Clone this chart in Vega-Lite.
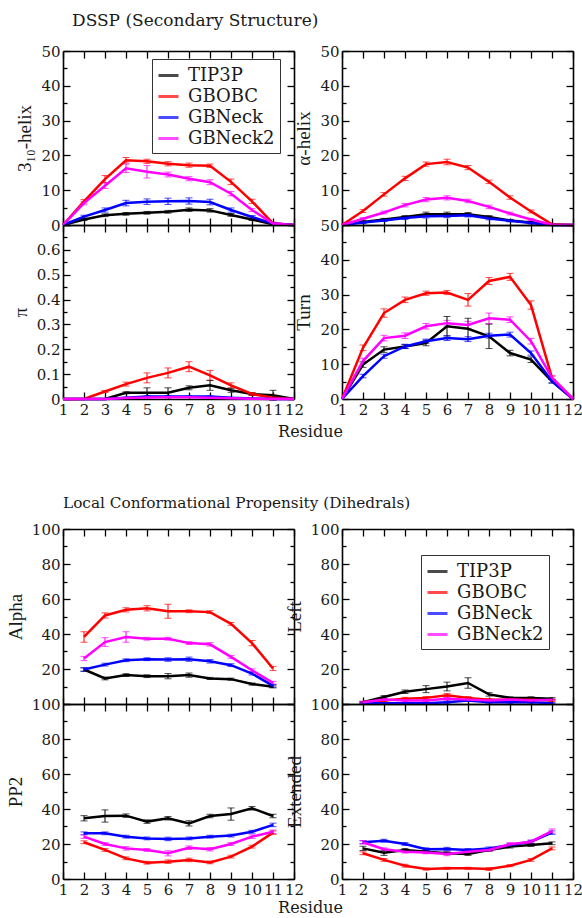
{
"$schema": "https://vega.github.io/schema/vega-lite/v6.json",
"padding": {"left": 6, "top": 12, "right": 0, "bottom": 0},
"background": "white",
"config": {
  "view": {"stroke": null},
  "font": "DejaVu Serif",
  "axis": {"domainColor": "#000", "domainWidth": 1.6, "tickColor": "#000", "tickWidth": 1.3, "labelFont": "DejaVu Serif", "labelFontSize": 15, "labelColor": "#1a1a1a", "titleFont": "Liberation Serif", "titleFontSize": 19, "titleFontWeight": "normal", "titleColor": "#1a1a1a", "grid": false, "labelFlush": false, "labelOverlap": false, "labelPadding": 10, "titlePadding": 6},
  "legend": {"strokeColor": "#333", "strokeWidth": 1, "padding": 5, "symbolType": "stroke", "symbolStrokeWidth": 3, "symbolSize": 400, "labelFont": "DejaVu Serif", "labelFontSize": 18, "labelOffset": 8, "rowPadding": 0, "labelColor": "#1a1a1a", "fillColor": "white"}
},
"data": {"values": [
{"p":"h310","m":"TIP3P","r":1,"v":0,"e":0},{"p":"h310","m":"TIP3P","r":2,"v":1.6,"e":0.3},{"p":"h310","m":"TIP3P","r":3,"v":2.8,"e":0.4},{"p":"h310","m":"TIP3P","r":4,"v":3.2,"e":0.4},{"p":"h310","m":"TIP3P","r":5,"v":3.5,"e":0.4},{"p":"h310","m":"TIP3P","r":6,"v":3.8,"e":0.4},{"p":"h310","m":"TIP3P","r":7,"v":4.4,"e":0.5},{"p":"h310","m":"TIP3P","r":8,"v":4.2,"e":0.5},{"p":"h310","m":"TIP3P","r":9,"v":2.9,"e":0.4},{"p":"h310","m":"TIP3P","r":10,"v":1.6,"e":0.3},{"p":"h310","m":"TIP3P","r":11,"v":0.2,"e":0.2},{"p":"h310","m":"TIP3P","r":12,"v":0,"e":0},
{"p":"h310","m":"GBOBC","r":1,"v":0,"e":0},{"p":"h310","m":"GBOBC","r":2,"v":6.8,"e":0.5},{"p":"h310","m":"GBOBC","r":3,"v":13.2,"e":1},{"p":"h310","m":"GBOBC","r":4,"v":18.6,"e":0.8},{"p":"h310","m":"GBOBC","r":5,"v":18.3,"e":0.6},{"p":"h310","m":"GBOBC","r":6,"v":17.6,"e":0.6},{"p":"h310","m":"GBOBC","r":7,"v":17.2,"e":0.6},{"p":"h310","m":"GBOBC","r":8,"v":17,"e":0.5},{"p":"h310","m":"GBOBC","r":9,"v":12.4,"e":0.8},{"p":"h310","m":"GBOBC","r":10,"v":6.8,"e":0.6},{"p":"h310","m":"GBOBC","r":11,"v":0.5,"e":0.3},{"p":"h310","m":"GBOBC","r":12,"v":0,"e":0},
{"p":"h310","m":"GBNeck","r":1,"v":0,"e":0},{"p":"h310","m":"GBNeck","r":2,"v":2.4,"e":0.4},{"p":"h310","m":"GBNeck","r":3,"v":4.3,"e":0.6},{"p":"h310","m":"GBNeck","r":4,"v":6.3,"e":0.8},{"p":"h310","m":"GBNeck","r":5,"v":6.7,"e":0.8},{"p":"h310","m":"GBNeck","r":6,"v":6.8,"e":0.9},{"p":"h310","m":"GBNeck","r":7,"v":6.9,"e":0.9},{"p":"h310","m":"GBNeck","r":8,"v":6.6,"e":0.8},{"p":"h310","m":"GBNeck","r":9,"v":4.3,"e":0.6},{"p":"h310","m":"GBNeck","r":10,"v":2.3,"e":0.4},{"p":"h310","m":"GBNeck","r":11,"v":0.4,"e":0.2},{"p":"h310","m":"GBNeck","r":12,"v":0,"e":0},
{"p":"h310","m":"GBNeck2","r":1,"v":0,"e":0},{"p":"h310","m":"GBNeck2","r":2,"v":6.3,"e":0.5},{"p":"h310","m":"GBNeck2","r":3,"v":11.3,"e":0.8},{"p":"h310","m":"GBNeck2","r":4,"v":16.3,"e":1.2},{"p":"h310","m":"GBNeck2","r":5,"v":15.3,"e":1.8},{"p":"h310","m":"GBNeck2","r":6,"v":14.5,"e":0.7},{"p":"h310","m":"GBNeck2","r":7,"v":13.3,"e":0.6},{"p":"h310","m":"GBNeck2","r":8,"v":12.3,"e":0.7},{"p":"h310","m":"GBNeck2","r":9,"v":9,"e":0.6},{"p":"h310","m":"GBNeck2","r":10,"v":4.3,"e":0.4},{"p":"h310","m":"GBNeck2","r":11,"v":0.4,"e":0.2},{"p":"h310","m":"GBNeck2","r":12,"v":0,"e":0},
{"p":"ahel","m":"TIP3P","r":1,"v":0,"e":0},{"p":"ahel","m":"TIP3P","r":2,"v":0.9,"e":0.3},{"p":"ahel","m":"TIP3P","r":3,"v":1.6,"e":0.3},{"p":"ahel","m":"TIP3P","r":4,"v":2.3,"e":0.4},{"p":"ahel","m":"TIP3P","r":5,"v":3.1,"e":0.6},{"p":"ahel","m":"TIP3P","r":6,"v":3.1,"e":0.6},{"p":"ahel","m":"TIP3P","r":7,"v":3.1,"e":0.5},{"p":"ahel","m":"TIP3P","r":8,"v":2.3,"e":0.4},{"p":"ahel","m":"TIP3P","r":9,"v":1.3,"e":0.3},{"p":"ahel","m":"TIP3P","r":10,"v":0.7,"e":0.3},{"p":"ahel","m":"TIP3P","r":11,"v":0,"e":0},{"p":"ahel","m":"TIP3P","r":12,"v":0,"e":0},
{"p":"ahel","m":"GBOBC","r":1,"v":0,"e":0},{"p":"ahel","m":"GBOBC","r":2,"v":4,"e":0.4},{"p":"ahel","m":"GBOBC","r":3,"v":8.8,"e":0.5},{"p":"ahel","m":"GBOBC","r":4,"v":13.4,"e":0.6},{"p":"ahel","m":"GBOBC","r":5,"v":17.5,"e":0.6},{"p":"ahel","m":"GBOBC","r":6,"v":18.1,"e":0.8},{"p":"ahel","m":"GBOBC","r":7,"v":16.5,"e":0.6},{"p":"ahel","m":"GBOBC","r":8,"v":12.4,"e":0.5},{"p":"ahel","m":"GBOBC","r":9,"v":7.9,"e":0.5},{"p":"ahel","m":"GBOBC","r":10,"v":3.9,"e":0.4},{"p":"ahel","m":"GBOBC","r":11,"v":0.2,"e":0.1},{"p":"ahel","m":"GBOBC","r":12,"v":0,"e":0},
{"p":"ahel","m":"GBNeck","r":1,"v":0,"e":0},{"p":"ahel","m":"GBNeck","r":2,"v":0.7,"e":0.3},{"p":"ahel","m":"GBNeck","r":3,"v":1.3,"e":0.3},{"p":"ahel","m":"GBNeck","r":4,"v":2,"e":0.4},{"p":"ahel","m":"GBNeck","r":5,"v":2.5,"e":0.5},{"p":"ahel","m":"GBNeck","r":6,"v":2.6,"e":0.5},{"p":"ahel","m":"GBNeck","r":7,"v":2.8,"e":0.5},{"p":"ahel","m":"GBNeck","r":8,"v":1.9,"e":0.4},{"p":"ahel","m":"GBNeck","r":9,"v":1.2,"e":0.3},{"p":"ahel","m":"GBNeck","r":10,"v":0.6,"e":0.3},{"p":"ahel","m":"GBNeck","r":11,"v":0,"e":0},{"p":"ahel","m":"GBNeck","r":12,"v":0,"e":0},
{"p":"ahel","m":"GBNeck2","r":1,"v":0,"e":0},{"p":"ahel","m":"GBNeck2","r":2,"v":1.8,"e":0.3},{"p":"ahel","m":"GBNeck2","r":3,"v":3.6,"e":0.4},{"p":"ahel","m":"GBNeck2","r":4,"v":5.7,"e":0.5},{"p":"ahel","m":"GBNeck2","r":5,"v":7.3,"e":0.6},{"p":"ahel","m":"GBNeck2","r":6,"v":7.8,"e":0.6},{"p":"ahel","m":"GBNeck2","r":7,"v":6.9,"e":0.5},{"p":"ahel","m":"GBNeck2","r":8,"v":5.2,"e":0.5},{"p":"ahel","m":"GBNeck2","r":9,"v":3.3,"e":0.4},{"p":"ahel","m":"GBNeck2","r":10,"v":1.6,"e":0.3},{"p":"ahel","m":"GBNeck2","r":11,"v":0.1,"e":0.1},{"p":"ahel","m":"GBNeck2","r":12,"v":0,"e":0},
{"p":"pi","m":"TIP3P","r":1,"v":0,"e":0},{"p":"pi","m":"TIP3P","r":2,"v":0,"e":0},{"p":"pi","m":"TIP3P","r":3,"v":0,"e":0},{"p":"pi","m":"TIP3P","r":4,"v":0.025,"e":0.004},{"p":"pi","m":"TIP3P","r":5,"v":0.025,"e":0.02},{"p":"pi","m":"TIP3P","r":6,"v":0.025,"e":0.02},{"p":"pi","m":"TIP3P","r":7,"v":0.045,"e":0.008},{"p":"pi","m":"TIP3P","r":8,"v":0.055,"e":0.02},{"p":"pi","m":"TIP3P","r":9,"v":0.035,"e":0.008},{"p":"pi","m":"TIP3P","r":10,"v":0.02,"e":0.005},{"p":"pi","m":"TIP3P","r":11,"v":0.015,"e":0.02},{"p":"pi","m":"TIP3P","r":12,"v":0,"e":0},
{"p":"pi","m":"GBOBC","r":1,"v":0,"e":0},{"p":"pi","m":"GBOBC","r":2,"v":0,"e":0},{"p":"pi","m":"GBOBC","r":3,"v":0.03,"e":0.004},{"p":"pi","m":"GBOBC","r":4,"v":0.06,"e":0.008},{"p":"pi","m":"GBOBC","r":5,"v":0.085,"e":0.02},{"p":"pi","m":"GBOBC","r":6,"v":0.105,"e":0.02},{"p":"pi","m":"GBOBC","r":7,"v":0.13,"e":0.02},{"p":"pi","m":"GBOBC","r":8,"v":0.095,"e":0.02},{"p":"pi","m":"GBOBC","r":9,"v":0.055,"e":0.01},{"p":"pi","m":"GBOBC","r":10,"v":0.02,"e":0.006},{"p":"pi","m":"GBOBC","r":11,"v":0.005,"e":0.003},{"p":"pi","m":"GBOBC","r":12,"v":0,"e":0},
{"p":"pi","m":"GBNeck","r":1,"v":0,"e":0},{"p":"pi","m":"GBNeck","r":2,"v":0,"e":0},{"p":"pi","m":"GBNeck","r":3,"v":0,"e":0},{"p":"pi","m":"GBNeck","r":4,"v":0.005,"e":0.002},{"p":"pi","m":"GBNeck","r":5,"v":0.01,"e":0.003},{"p":"pi","m":"GBNeck","r":6,"v":0.01,"e":0.003},{"p":"pi","m":"GBNeck","r":7,"v":0.01,"e":0.003},{"p":"pi","m":"GBNeck","r":8,"v":0.01,"e":0.003},{"p":"pi","m":"GBNeck","r":9,"v":0.005,"e":0.002},{"p":"pi","m":"GBNeck","r":10,"v":0.002,"e":0},{"p":"pi","m":"GBNeck","r":11,"v":0,"e":0},{"p":"pi","m":"GBNeck","r":12,"v":0,"e":0},
{"p":"pi","m":"GBNeck2","r":1,"v":0,"e":0},{"p":"pi","m":"GBNeck2","r":2,"v":0,"e":0},{"p":"pi","m":"GBNeck2","r":3,"v":0,"e":0},{"p":"pi","m":"GBNeck2","r":4,"v":0.004,"e":0.002},{"p":"pi","m":"GBNeck2","r":5,"v":0.006,"e":0.002},{"p":"pi","m":"GBNeck2","r":6,"v":0.007,"e":0.002},{"p":"pi","m":"GBNeck2","r":7,"v":0.007,"e":0.002},{"p":"pi","m":"GBNeck2","r":8,"v":0.005,"e":0.002},{"p":"pi","m":"GBNeck2","r":9,"v":0.003,"e":0.002},{"p":"pi","m":"GBNeck2","r":10,"v":0.001,"e":0},{"p":"pi","m":"GBNeck2","r":11,"v":0,"e":0},{"p":"pi","m":"GBNeck2","r":12,"v":0,"e":0},
{"p":"turn","m":"TIP3P","r":1,"v":0,"e":0},{"p":"turn","m":"TIP3P","r":2,"v":9.9,"e":0.8},{"p":"turn","m":"TIP3P","r":3,"v":14.2,"e":0.8},{"p":"turn","m":"TIP3P","r":4,"v":15.1,"e":0.6},{"p":"turn","m":"TIP3P","r":5,"v":16.1,"e":0.8},{"p":"turn","m":"TIP3P","r":6,"v":20.9,"e":2.8},{"p":"turn","m":"TIP3P","r":7,"v":20.2,"e":3},{"p":"turn","m":"TIP3P","r":8,"v":18,"e":3.5},{"p":"turn","m":"TIP3P","r":9,"v":13.2,"e":0.8},{"p":"turn","m":"TIP3P","r":10,"v":11.3,"e":0.8},{"p":"turn","m":"TIP3P","r":11,"v":5.1,"e":0.5},{"p":"turn","m":"TIP3P","r":12,"v":0,"e":0},
{"p":"turn","m":"GBOBC","r":1,"v":0,"e":0},{"p":"turn","m":"GBOBC","r":2,"v":14.7,"e":0.8},{"p":"turn","m":"GBOBC","r":3,"v":24.7,"e":1.2},{"p":"turn","m":"GBOBC","r":4,"v":28.5,"e":0.8},{"p":"turn","m":"GBOBC","r":5,"v":30.4,"e":0.6},{"p":"turn","m":"GBOBC","r":6,"v":30.6,"e":0.6},{"p":"turn","m":"GBOBC","r":7,"v":28.5,"e":1.8},{"p":"turn","m":"GBOBC","r":8,"v":33.9,"e":1},{"p":"turn","m":"GBOBC","r":9,"v":35.1,"e":1},{"p":"turn","m":"GBOBC","r":10,"v":27,"e":1.2},{"p":"turn","m":"GBOBC","r":11,"v":6.1,"e":0.5},{"p":"turn","m":"GBOBC","r":12,"v":0,"e":0},
{"p":"turn","m":"GBNeck","r":1,"v":0,"e":0},{"p":"turn","m":"GBNeck","r":2,"v":6.6,"e":0.5},{"p":"turn","m":"GBNeck","r":3,"v":12.3,"e":0.6},{"p":"turn","m":"GBNeck","r":4,"v":15.1,"e":0.6},{"p":"turn","m":"GBNeck","r":5,"v":16.6,"e":0.6},{"p":"turn","m":"GBNeck","r":6,"v":17.5,"e":0.7},{"p":"turn","m":"GBNeck","r":7,"v":17.2,"e":0.7},{"p":"turn","m":"GBNeck","r":8,"v":18.2,"e":0.7},{"p":"turn","m":"GBNeck","r":9,"v":18.5,"e":0.7},{"p":"turn","m":"GBNeck","r":10,"v":13.2,"e":0.6},{"p":"turn","m":"GBNeck","r":11,"v":5.1,"e":0.5},{"p":"turn","m":"GBNeck","r":12,"v":0,"e":0},
{"p":"turn","m":"GBNeck2","r":1,"v":0,"e":0},{"p":"turn","m":"GBNeck2","r":2,"v":10.9,"e":0.8},{"p":"turn","m":"GBNeck2","r":3,"v":17.5,"e":0.8},{"p":"turn","m":"GBNeck2","r":4,"v":18.2,"e":0.8},{"p":"turn","m":"GBNeck2","r":5,"v":20.9,"e":0.8},{"p":"turn","m":"GBNeck2","r":6,"v":21.8,"e":0.8},{"p":"turn","m":"GBNeck2","r":7,"v":21.3,"e":1},{"p":"turn","m":"GBNeck2","r":8,"v":23.2,"e":1.5},{"p":"turn","m":"GBNeck2","r":9,"v":22.8,"e":0.8},{"p":"turn","m":"GBNeck2","r":10,"v":16.6,"e":0.8},{"p":"turn","m":"GBNeck2","r":11,"v":6.1,"e":0.5},{"p":"turn","m":"GBNeck2","r":12,"v":0,"e":0},
{"p":"alpha","m":"TIP3P","r":2,"v":19.7,"e":1},{"p":"alpha","m":"TIP3P","r":3,"v":14.6,"e":0.8},{"p":"alpha","m":"TIP3P","r":4,"v":16.5,"e":0.8},{"p":"alpha","m":"TIP3P","r":5,"v":15.9,"e":0.8},{"p":"alpha","m":"TIP3P","r":6,"v":15.9,"e":1.5},{"p":"alpha","m":"TIP3P","r":7,"v":16.5,"e":1.2},{"p":"alpha","m":"TIP3P","r":8,"v":14.6,"e":0.6},{"p":"alpha","m":"TIP3P","r":9,"v":14.2,"e":0.6},{"p":"alpha","m":"TIP3P","r":10,"v":11.4,"e":0.6},{"p":"alpha","m":"TIP3P","r":11,"v":9.8,"e":0.6},
{"p":"alpha","m":"GBOBC","r":2,"v":38.3,"e":3},{"p":"alpha","m":"GBOBC","r":3,"v":50.6,"e":1.5},{"p":"alpha","m":"GBOBC","r":4,"v":53.8,"e":1.2},{"p":"alpha","m":"GBOBC","r":5,"v":54.7,"e":1.5},{"p":"alpha","m":"GBOBC","r":6,"v":53,"e":4},{"p":"alpha","m":"GBOBC","r":7,"v":53,"e":0.8},{"p":"alpha","m":"GBOBC","r":8,"v":52.5,"e":0.8},{"p":"alpha","m":"GBOBC","r":9,"v":45.8,"e":0.8},{"p":"alpha","m":"GBOBC","r":10,"v":34.8,"e":1.5},{"p":"alpha","m":"GBOBC","r":11,"v":20.3,"e":1.2},
{"p":"alpha","m":"GBNeck","r":2,"v":19.7,"e":1},{"p":"alpha","m":"GBNeck","r":3,"v":22.5,"e":0.8},{"p":"alpha","m":"GBNeck","r":4,"v":25,"e":0.8},{"p":"alpha","m":"GBNeck","r":5,"v":25.6,"e":0.8},{"p":"alpha","m":"GBNeck","r":6,"v":25.4,"e":1},{"p":"alpha","m":"GBNeck","r":7,"v":25.6,"e":1.2},{"p":"alpha","m":"GBNeck","r":8,"v":24.4,"e":1},{"p":"alpha","m":"GBNeck","r":9,"v":22.2,"e":0.8},{"p":"alpha","m":"GBNeck","r":10,"v":17.4,"e":0.8},{"p":"alpha","m":"GBNeck","r":11,"v":10.4,"e":0.8},
{"p":"alpha","m":"GBNeck2","r":2,"v":26,"e":1.2},{"p":"alpha","m":"GBNeck2","r":3,"v":35.4,"e":2.5},{"p":"alpha","m":"GBNeck2","r":4,"v":38.3,"e":3},{"p":"alpha","m":"GBNeck2","r":5,"v":37.3,"e":0.8},{"p":"alpha","m":"GBNeck2","r":6,"v":37.3,"e":0.8},{"p":"alpha","m":"GBNeck2","r":7,"v":34.8,"e":0.8},{"p":"alpha","m":"GBNeck2","r":8,"v":34.1,"e":1},{"p":"alpha","m":"GBNeck2","r":9,"v":26.9,"e":0.8},{"p":"alpha","m":"GBNeck2","r":10,"v":19.3,"e":0.8},{"p":"alpha","m":"GBNeck2","r":11,"v":12.1,"e":0.8},
{"p":"left","m":"TIP3P","r":2,"v":1,"e":0.5},{"p":"left","m":"TIP3P","r":3,"v":4,"e":0.8},{"p":"left","m":"TIP3P","r":4,"v":7,"e":1},{"p":"left","m":"TIP3P","r":5,"v":8.5,"e":2},{"p":"left","m":"TIP3P","r":6,"v":10,"e":2.5},{"p":"left","m":"TIP3P","r":7,"v":12,"e":3},{"p":"left","m":"TIP3P","r":8,"v":5.5,"e":1},{"p":"left","m":"TIP3P","r":9,"v":3.5,"e":0.6},{"p":"left","m":"TIP3P","r":10,"v":3.5,"e":0.6},{"p":"left","m":"TIP3P","r":11,"v":3,"e":0.6},
{"p":"left","m":"GBOBC","r":2,"v":1,"e":0.5},{"p":"left","m":"GBOBC","r":3,"v":2,"e":0.6},{"p":"left","m":"GBOBC","r":4,"v":3,"e":0.8},{"p":"left","m":"GBOBC","r":5,"v":3.5,"e":0.8},{"p":"left","m":"GBOBC","r":6,"v":5,"e":1},{"p":"left","m":"GBOBC","r":7,"v":3.5,"e":0.8},{"p":"left","m":"GBOBC","r":8,"v":2.5,"e":0.6},{"p":"left","m":"GBOBC","r":9,"v":2.5,"e":0.6},{"p":"left","m":"GBOBC","r":10,"v":2.5,"e":0.6},{"p":"left","m":"GBOBC","r":11,"v":2,"e":0.5},
{"p":"left","m":"GBNeck","r":2,"v":0.5,"e":0.3},{"p":"left","m":"GBNeck","r":3,"v":0.5,"e":0.3},{"p":"left","m":"GBNeck","r":4,"v":0.5,"e":0.3},{"p":"left","m":"GBNeck","r":5,"v":0.5,"e":0.3},{"p":"left","m":"GBNeck","r":6,"v":1,"e":0.5},{"p":"left","m":"GBNeck","r":7,"v":2,"e":0.6},{"p":"left","m":"GBNeck","r":8,"v":1,"e":0.5},{"p":"left","m":"GBNeck","r":9,"v":1,"e":0.5},{"p":"left","m":"GBNeck","r":10,"v":1,"e":0.5},{"p":"left","m":"GBNeck","r":11,"v":0.5,"e":0.3},
{"p":"left","m":"GBNeck2","r":2,"v":1,"e":0.5},{"p":"left","m":"GBNeck2","r":3,"v":2.5,"e":0.6},{"p":"left","m":"GBNeck2","r":4,"v":2,"e":0.6},{"p":"left","m":"GBNeck2","r":5,"v":2,"e":0.6},{"p":"left","m":"GBNeck2","r":6,"v":3,"e":0.8},{"p":"left","m":"GBNeck2","r":7,"v":2.5,"e":0.6},{"p":"left","m":"GBNeck2","r":8,"v":2,"e":0.6},{"p":"left","m":"GBNeck2","r":9,"v":2.5,"e":0.6},{"p":"left","m":"GBNeck2","r":10,"v":2,"e":0.6},{"p":"left","m":"GBNeck2","r":11,"v":2.5,"e":0.6},
{"p":"pp2","m":"TIP3P","r":2,"v":34.7,"e":1.5},{"p":"pp2","m":"TIP3P","r":3,"v":36,"e":3.5},{"p":"pp2","m":"TIP3P","r":4,"v":36.2,"e":1},{"p":"pp2","m":"TIP3P","r":5,"v":32.8,"e":1},{"p":"pp2","m":"TIP3P","r":6,"v":34.7,"e":1},{"p":"pp2","m":"TIP3P","r":7,"v":31.8,"e":1.5},{"p":"pp2","m":"TIP3P","r":8,"v":36,"e":1},{"p":"pp2","m":"TIP3P","r":9,"v":37.1,"e":3.5},{"p":"pp2","m":"TIP3P","r":10,"v":40.4,"e":1},{"p":"pp2","m":"TIP3P","r":11,"v":36,"e":1},
{"p":"pp2","m":"GBOBC","r":2,"v":21,"e":0.8},{"p":"pp2","m":"GBOBC","r":3,"v":16.6,"e":0.8},{"p":"pp2","m":"GBOBC","r":4,"v":11.8,"e":0.8},{"p":"pp2","m":"GBOBC","r":5,"v":9.3,"e":0.8},{"p":"pp2","m":"GBOBC","r":6,"v":9.9,"e":1},{"p":"pp2","m":"GBOBC","r":7,"v":10.9,"e":1},{"p":"pp2","m":"GBOBC","r":8,"v":9.5,"e":0.8},{"p":"pp2","m":"GBOBC","r":9,"v":12.8,"e":0.8},{"p":"pp2","m":"GBOBC","r":10,"v":18.5,"e":0.8},{"p":"pp2","m":"GBOBC","r":11,"v":26.5,"e":1},
{"p":"pp2","m":"GBNeck","r":2,"v":26.1,"e":0.8},{"p":"pp2","m":"GBNeck","r":3,"v":26.1,"e":0.8},{"p":"pp2","m":"GBNeck","r":4,"v":24.2,"e":0.8},{"p":"pp2","m":"GBNeck","r":5,"v":23.2,"e":0.8},{"p":"pp2","m":"GBNeck","r":6,"v":22.9,"e":1},{"p":"pp2","m":"GBNeck","r":7,"v":23.2,"e":0.8},{"p":"pp2","m":"GBNeck","r":8,"v":24.2,"e":0.8},{"p":"pp2","m":"GBNeck","r":9,"v":24.8,"e":0.8},{"p":"pp2","m":"GBNeck","r":10,"v":27,"e":0.8},{"p":"pp2","m":"GBNeck","r":11,"v":30.9,"e":1},
{"p":"pp2","m":"GBNeck2","r":2,"v":24.2,"e":1},{"p":"pp2","m":"GBNeck2","r":3,"v":20,"e":0.8},{"p":"pp2","m":"GBNeck2","r":4,"v":17.5,"e":1},{"p":"pp2","m":"GBNeck2","r":5,"v":16.6,"e":0.8},{"p":"pp2","m":"GBNeck2","r":6,"v":14.7,"e":1.5},{"p":"pp2","m":"GBNeck2","r":7,"v":17.9,"e":1},{"p":"pp2","m":"GBNeck2","r":8,"v":17,"e":1},{"p":"pp2","m":"GBNeck2","r":9,"v":20,"e":0.8},{"p":"pp2","m":"GBNeck2","r":10,"v":24.2,"e":1},{"p":"pp2","m":"GBNeck2","r":11,"v":27,"e":1},
{"p":"ext","m":"TIP3P","r":2,"v":17.5,"e":1.2},{"p":"ext","m":"TIP3P","r":3,"v":15,"e":1.5},{"p":"ext","m":"TIP3P","r":4,"v":16.6,"e":0.8},{"p":"ext","m":"TIP3P","r":5,"v":15.6,"e":0.8},{"p":"ext","m":"TIP3P","r":6,"v":14.7,"e":0.8},{"p":"ext","m":"TIP3P","r":7,"v":14.3,"e":0.8},{"p":"ext","m":"TIP3P","r":8,"v":16.6,"e":0.8},{"p":"ext","m":"TIP3P","r":9,"v":18.5,"e":0.8},{"p":"ext","m":"TIP3P","r":10,"v":19.4,"e":0.8},{"p":"ext","m":"TIP3P","r":11,"v":20.4,"e":0.8},
{"p":"ext","m":"GBOBC","r":2,"v":14.7,"e":0.8},{"p":"ext","m":"GBOBC","r":3,"v":10.9,"e":0.8},{"p":"ext","m":"GBOBC","r":4,"v":7.6,"e":0.8},{"p":"ext","m":"GBOBC","r":5,"v":5.7,"e":0.6},{"p":"ext","m":"GBOBC","r":6,"v":6.1,"e":0.6},{"p":"ext","m":"GBOBC","r":7,"v":6.1,"e":0.6},{"p":"ext","m":"GBOBC","r":8,"v":5.7,"e":0.8},{"p":"ext","m":"GBOBC","r":9,"v":7.6,"e":0.6},{"p":"ext","m":"GBOBC","r":10,"v":10.9,"e":0.8},{"p":"ext","m":"GBOBC","r":11,"v":17.5,"e":0.8},
{"p":"ext","m":"GBNeck","r":2,"v":21,"e":0.8},{"p":"ext","m":"GBNeck","r":3,"v":21.9,"e":0.8},{"p":"ext","m":"GBNeck","r":4,"v":20,"e":0.8},{"p":"ext","m":"GBNeck","r":5,"v":17,"e":0.8},{"p":"ext","m":"GBNeck","r":6,"v":17.1,"e":1},{"p":"ext","m":"GBNeck","r":7,"v":16.6,"e":0.8},{"p":"ext","m":"GBNeck","r":8,"v":17.5,"e":0.8},{"p":"ext","m":"GBNeck","r":9,"v":19.4,"e":0.8},{"p":"ext","m":"GBNeck","r":10,"v":21.3,"e":0.8},{"p":"ext","m":"GBNeck","r":11,"v":26.5,"e":1},
{"p":"ext","m":"GBNeck2","r":2,"v":21,"e":1},{"p":"ext","m":"GBNeck2","r":3,"v":17,"e":0.8},{"p":"ext","m":"GBNeck2","r":4,"v":15.6,"e":0.8},{"p":"ext","m":"GBNeck2","r":5,"v":15.2,"e":0.8},{"p":"ext","m":"GBNeck2","r":6,"v":14.3,"e":1},{"p":"ext","m":"GBNeck2","r":7,"v":15.6,"e":0.8},{"p":"ext","m":"GBNeck2","r":8,"v":16.6,"e":0.8},{"p":"ext","m":"GBNeck2","r":9,"v":19.8,"e":1},{"p":"ext","m":"GBNeck2","r":10,"v":21.3,"e":1},{"p":"ext","m":"GBNeck2","r":11,"v":27.4,"e":1.2}
]},
"columns": 2,
"bounds": "flush",
"spacing": {"row": 0, "column": 48},
"resolve": {"legend": {"color": "independent"}},
"concat": [
   {"width": 231, "height": 174,
    "transform": [{"filter": "datum.p === 'h310'"}],
    "title": {"text": "DSSP (Secondary Structure)", "anchor": "start", "frame": "group", "dx": 9, "offset": 1, "fontSize": 17, "font": "DejaVu Serif", "fontWeight": "normal", "baseline": "alphabetic", "color": "#1a1a1a"},
    "layer": [
     {"transform": [{"filter": "datum.e > 0"}], "mark": {"type": "errorbar", "ticks": {"size": 7}, "thickness": 1},
      "encoding": {"x": {"field": "r", "type": "quantitative", "scale": {"domain": [1, 12], "nice": false}, "axis": null},
       "y": {"field": "v", "type": "quantitative", "scale": {"domain": [0, 50], "nice": false}, "axis": null},
       "yError": {"field": "e"},
       "color": {"field": "m", "type": "nominal", "scale": {"domain": ["TIP3P", "GBOBC", "GBNeck", "GBNeck2"], "range": ["#000000", "#ff0000", "#0000ff", "#ff00ff"]}, "legend": {"orient": "none", "legendX": 89, "legendY": 8, "title": null}}}},
     {"mark": {"type": "line", "strokeWidth": 2.5},
      "encoding": {"x": {"field": "r", "type": "quantitative", "scale": {"domain": [1, 12], "nice": false}, "axis": {"orient": "bottom", "values": [1,2,3,4,5,6,7,8,9,10,11,12], "labels": false, "title": null, "tickSize": -7}},
       "y": {"field": "v", "type": "quantitative", "scale": {"domain": [0, 50], "nice": false}, "axis": {"orient": "left", "values": [0,5,10,15,20,25,30,35,40,45,50], "labelExpr": "datum.value % 10 === 0 ? datum.label : ''", "tickSize": {"condition": {"test": "datum.value % 10 === 0", "value": -7}, "value": -4}, "title": "3₁₀-helix"}},
       "color": {"field": "m", "type": "nominal", "scale": {"domain": ["TIP3P", "GBOBC", "GBNeck", "GBNeck2"], "range": ["#000000", "#ff0000", "#0000ff", "#ff00ff"]}, "legend": {"orient": "none", "legendX": 89, "legendY": 8, "title": null}}}},
     {"mark": {"type": "line", "opacity": 0},
      "encoding": {"x": {"field": "r", "type": "quantitative", "scale": {"domain": [1, 12], "nice": false}, "axis": {"orient": "top", "values": [1,2,3,4,5,6,7,8,9,10,11,12], "labels": false, "title": null, "tickSize": -7}},
       "y": {"field": "v", "type": "quantitative", "scale": {"domain": [0, 50], "nice": false}, "axis": {"orient": "right", "values": [0,5,10,15,20,25,30,35,40,45,50], "labels": false, "title": null, "tickSize": {"condition": {"test": "datum.value % 10 === 0", "value": -7}, "value": -4}}}}}
    ],
    "resolve": {"axis": {"x": "independent", "y": "independent"}}},
   {"width": 231, "height": 174,
    "transform": [{"filter": "datum.p === 'ahel'"}],
    "layer": [
     {"transform": [{"filter": "datum.e > 0"}], "mark": {"type": "errorbar", "ticks": {"size": 7}, "thickness": 1},
      "encoding": {"x": {"field": "r", "type": "quantitative", "scale": {"domain": [1, 12], "nice": false}, "axis": null},
       "y": {"field": "v", "type": "quantitative", "scale": {"domain": [0, 50], "nice": false}, "axis": null},
       "yError": {"field": "e"},
       "color": {"field": "m", "type": "nominal", "scale": {"domain": ["TIP3P", "GBOBC", "GBNeck", "GBNeck2"], "range": ["#000000", "#ff0000", "#0000ff", "#ff00ff"]}, "legend": null}}},
     {"mark": {"type": "line", "strokeWidth": 2.5},
      "encoding": {"x": {"field": "r", "type": "quantitative", "scale": {"domain": [1, 12], "nice": false}, "axis": {"orient": "bottom", "values": [1,2,3,4,5,6,7,8,9,10,11,12], "labels": false, "title": null, "tickSize": -7}},
       "y": {"field": "v", "type": "quantitative", "scale": {"domain": [0, 50], "nice": false}, "axis": {"orient": "left", "values": [0,5,10,15,20,25,30,35,40,45,50], "labelExpr": "datum.value % 10 === 0 && datum.value > 0 ? datum.label : ''", "tickSize": {"condition": {"test": "datum.value % 10 === 0", "value": -7}, "value": -4}, "title": "α-helix"}},
       "color": {"field": "m", "type": "nominal", "scale": {"domain": ["TIP3P", "GBOBC", "GBNeck", "GBNeck2"], "range": ["#000000", "#ff0000", "#0000ff", "#ff00ff"]}, "legend": null}}},
     {"mark": {"type": "line", "opacity": 0},
      "encoding": {"x": {"field": "r", "type": "quantitative", "scale": {"domain": [1, 12], "nice": false}, "axis": {"orient": "top", "values": [1,2,3,4,5,6,7,8,9,10,11,12], "labels": false, "title": null, "tickSize": -7}},
       "y": {"field": "v", "type": "quantitative", "scale": {"domain": [0, 50], "nice": false}, "axis": {"orient": "right", "values": [0,5,10,15,20,25,30,35,40,45,50], "labels": false, "title": null, "tickSize": {"condition": {"test": "datum.value % 10 === 0", "value": -7}, "value": -4}}}}}
    ],
    "resolve": {"axis": {"x": "independent", "y": "independent"}}},
   {"width": 231, "height": 174,
    "transform": [{"filter": "datum.p === 'pi'"}],
    "layer": [
     {"transform": [{"filter": "datum.e > 0"}], "mark": {"type": "errorbar", "ticks": {"size": 7}, "thickness": 1},
      "encoding": {"x": {"field": "r", "type": "quantitative", "scale": {"domain": [1, 12], "nice": false}, "axis": null},
       "y": {"field": "v", "type": "quantitative", "scale": {"domain": [0, 0.7], "nice": false}, "axis": null},
       "yError": {"field": "e"},
       "color": {"field": "m", "type": "nominal", "scale": {"domain": ["TIP3P", "GBOBC", "GBNeck", "GBNeck2"], "range": ["#000000", "#ff0000", "#0000ff", "#ff00ff"]}, "legend": null}}},
     {"mark": {"type": "line", "strokeWidth": 2.5},
      "encoding": {"x": {"field": "r", "type": "quantitative", "scale": {"domain": [1, 12], "nice": false}, "axis": {"orient": "bottom", "values": [1,2,3,4,5,6,7,8,9,10,11,12], "tickSize": -7, "title": "Residue", "titleX": 247, "titleY": 37, "titleAlign": "center", "titleBaseline": "alphabetic", "titleFont": "DejaVu Serif", "titleFontSize": 16}},
       "y": {"field": "v", "type": "quantitative", "scale": {"domain": [0, 0.7], "nice": false}, "axis": {"orient": "left", "values": [0,0.05,0.1,0.15,0.2,0.25,0.3,0.35,0.4,0.45,0.5,0.55,0.6,0.65,0.7], "labelExpr": "round(datum.value*100) % 10 === 0 && datum.value < 0.65 ? (datum.value === 0 ? '0' : format(datum.value, '.1f')) : ''", "tickSize": {"condition": {"test": "round(datum.value*100) % 10 === 0", "value": -7}, "value": -4}, "title": "π"}},
       "color": {"field": "m", "type": "nominal", "scale": {"domain": ["TIP3P", "GBOBC", "GBNeck", "GBNeck2"], "range": ["#000000", "#ff0000", "#0000ff", "#ff00ff"]}, "legend": null}}},
     {"mark": {"type": "line", "opacity": 0},
      "encoding": {"x": {"field": "r", "type": "quantitative", "scale": {"domain": [1, 12], "nice": false}, "axis": {"orient": "top", "values": [1,2,3,4,5,6,7,8,9,10,11,12], "labels": false, "title": null, "tickSize": -7}},
       "y": {"field": "v", "type": "quantitative", "scale": {"domain": [0, 0.7], "nice": false}, "axis": {"orient": "right", "values": [0,0.05,0.1,0.15,0.2,0.25,0.3,0.35,0.4,0.45,0.5,0.55,0.6,0.65,0.7], "labels": false, "title": null, "tickSize": {"condition": {"test": "round(datum.value*100) % 10 === 0", "value": -7}, "value": -4}}}}}
    ],
    "resolve": {"axis": {"x": "independent", "y": "independent"}}},
   {"width": 231, "height": 174,
    "transform": [{"filter": "datum.p === 'turn'"}],
    "layer": [
     {"transform": [{"filter": "datum.e > 0"}], "mark": {"type": "errorbar", "ticks": {"size": 7}, "thickness": 1},
      "encoding": {"x": {"field": "r", "type": "quantitative", "scale": {"domain": [1, 12], "nice": false}, "axis": null},
       "y": {"field": "v", "type": "quantitative", "scale": {"domain": [0, 50], "nice": false}, "axis": null},
       "yError": {"field": "e"},
       "color": {"field": "m", "type": "nominal", "scale": {"domain": ["TIP3P", "GBOBC", "GBNeck", "GBNeck2"], "range": ["#000000", "#ff0000", "#0000ff", "#ff00ff"]}, "legend": null}}},
     {"mark": {"type": "line", "strokeWidth": 2.5},
      "encoding": {"x": {"field": "r", "type": "quantitative", "scale": {"domain": [1, 12], "nice": false}, "axis": {"orient": "bottom", "values": [1,2,3,4,5,6,7,8,9,10,11,12], "tickSize": -7, "title": null}},
       "y": {"field": "v", "type": "quantitative", "scale": {"domain": [0, 50], "nice": false}, "axis": {"orient": "left", "values": [0,5,10,15,20,25,30,35,40,45,50], "labelExpr": "datum.value % 10 === 0 ? datum.label : ''", "tickSize": {"condition": {"test": "datum.value % 10 === 0", "value": -7}, "value": -4}, "title": "Turn"}},
       "color": {"field": "m", "type": "nominal", "scale": {"domain": ["TIP3P", "GBOBC", "GBNeck", "GBNeck2"], "range": ["#000000", "#ff0000", "#0000ff", "#ff00ff"]}, "legend": null}}},
     {"mark": {"type": "line", "opacity": 0},
      "encoding": {"x": {"field": "r", "type": "quantitative", "scale": {"domain": [1, 12], "nice": false}, "axis": {"orient": "top", "values": [1,2,3,4,5,6,7,8,9,10,11,12], "labels": false, "title": null, "tickSize": -7}},
       "y": {"field": "v", "type": "quantitative", "scale": {"domain": [0, 50], "nice": false}, "axis": {"orient": "right", "values": [0,5,10,15,20,25,30,35,40,45,50], "labels": false, "title": null, "tickSize": {"condition": {"test": "datum.value % 10 === 0", "value": -7}, "value": -4}}}}}
    ],
    "resolve": {"axis": {"x": "independent", "y": "independent"}}},
   {"width": 231, "height": 130, "data": {"values": [{"s": 1}]}, "mark": {"type": "point", "opacity": 0}, "encoding": {}},
   {"width": 231, "height": 130, "data": {"values": [{"s": 1}]}, "mark": {"type": "point", "opacity": 0}, "encoding": {}},
   {"width": 231, "height": 175,
    "transform": [{"filter": "datum.p === 'alpha'"}],
    "title": {"text": "Local Conformational Propensity (Dihedrals)", "anchor": "start", "frame": "group", "dx": 0, "offset": -1, "fontSize": 15.3, "font": "DejaVu Serif", "fontWeight": "normal", "baseline": "alphabetic", "color": "#1a1a1a"},
    "layer": [
     {"transform": [{"filter": "datum.e > 0"}], "mark": {"type": "errorbar", "ticks": {"size": 7}, "thickness": 1},
      "encoding": {"x": {"field": "r", "type": "quantitative", "scale": {"domain": [1, 12], "nice": false}, "axis": null},
       "y": {"field": "v", "type": "quantitative", "scale": {"domain": [0, 100], "nice": false}, "axis": null},
       "yError": {"field": "e"},
       "color": {"field": "m", "type": "nominal", "scale": {"domain": ["TIP3P", "GBOBC", "GBNeck", "GBNeck2"], "range": ["#000000", "#ff0000", "#0000ff", "#ff00ff"]}, "legend": null}}},
     {"mark": {"type": "line", "strokeWidth": 2.5},
      "encoding": {"x": {"field": "r", "type": "quantitative", "scale": {"domain": [1, 12], "nice": false}, "axis": {"orient": "bottom", "values": [1,2,3,4,5,6,7,8,9,10,11,12], "labels": false, "title": null, "tickSize": -7}},
       "y": {"field": "v", "type": "quantitative", "scale": {"domain": [0, 100], "nice": false}, "axis": {"orient": "left", "values": [0,10,20,30,40,50,60,70,80,90,100], "labelExpr": "datum.value % 20 === 0 && datum.value > 0 ? datum.label : ''", "tickSize": {"condition": {"test": "datum.value % 20 === 0", "value": -7}, "value": -4}, "title": "Alpha"}},
       "color": {"field": "m", "type": "nominal", "scale": {"domain": ["TIP3P", "GBOBC", "GBNeck", "GBNeck2"], "range": ["#000000", "#ff0000", "#0000ff", "#ff00ff"]}, "legend": null}}},
     {"mark": {"type": "line", "opacity": 0},
      "encoding": {"x": {"field": "r", "type": "quantitative", "scale": {"domain": [1, 12], "nice": false}, "axis": {"orient": "top", "values": [1,2,3,4,5,6,7,8,9,10,11,12], "labels": false, "title": null, "tickSize": -7}},
       "y": {"field": "v", "type": "quantitative", "scale": {"domain": [0, 100], "nice": false}, "axis": {"orient": "right", "values": [0,10,20,30,40,50,60,70,80,90,100], "labels": false, "title": null, "tickSize": {"condition": {"test": "datum.value % 20 === 0", "value": -7}, "value": -4}}}}}
    ],
    "resolve": {"axis": {"x": "independent", "y": "independent"}}},
   {"width": 231, "height": 175,
    "transform": [{"filter": "datum.p === 'left'"}],
    "layer": [
     {"transform": [{"filter": "datum.e > 0"}], "mark": {"type": "errorbar", "ticks": {"size": 7}, "thickness": 1},
      "encoding": {"x": {"field": "r", "type": "quantitative", "scale": {"domain": [1, 12], "nice": false}, "axis": null},
       "y": {"field": "v", "type": "quantitative", "scale": {"domain": [0, 100], "nice": false}, "axis": null},
       "yError": {"field": "e"},
       "color": {"field": "m", "type": "nominal", "scale": {"domain": ["TIP3P", "GBOBC", "GBNeck", "GBNeck2"], "range": ["#000000", "#ff0000", "#0000ff", "#ff00ff"]}, "legend": {"orient": "none", "legendX": 79, "legendY": 26, "title": null}}}},
     {"mark": {"type": "line", "strokeWidth": 2.5},
      "encoding": {"x": {"field": "r", "type": "quantitative", "scale": {"domain": [1, 12], "nice": false}, "axis": {"orient": "bottom", "values": [1,2,3,4,5,6,7,8,9,10,11,12], "labels": false, "title": null, "tickSize": -7}},
       "y": {"field": "v", "type": "quantitative", "scale": {"domain": [0, 100], "nice": false}, "axis": {"orient": "left", "values": [0,10,20,30,40,50,60,70,80,90,100], "labelExpr": "datum.value % 20 === 0 && datum.value > 0 ? datum.label : ''", "tickSize": {"condition": {"test": "datum.value % 20 === 0", "value": -7}, "value": -4}, "title": "Left"}},
       "color": {"field": "m", "type": "nominal", "scale": {"domain": ["TIP3P", "GBOBC", "GBNeck", "GBNeck2"], "range": ["#000000", "#ff0000", "#0000ff", "#ff00ff"]}, "legend": {"orient": "none", "legendX": 79, "legendY": 26, "title": null}}}},
     {"mark": {"type": "line", "opacity": 0},
      "encoding": {"x": {"field": "r", "type": "quantitative", "scale": {"domain": [1, 12], "nice": false}, "axis": {"orient": "top", "values": [1,2,3,4,5,6,7,8,9,10,11,12], "labels": false, "title": null, "tickSize": -7}},
       "y": {"field": "v", "type": "quantitative", "scale": {"domain": [0, 100], "nice": false}, "axis": {"orient": "right", "values": [0,10,20,30,40,50,60,70,80,90,100], "labels": false, "title": null, "tickSize": {"condition": {"test": "datum.value % 20 === 0", "value": -7}, "value": -4}}}}}
    ],
    "resolve": {"axis": {"x": "independent", "y": "independent"}}},
   {"width": 231, "height": 175,
    "transform": [{"filter": "datum.p === 'pp2'"}],
    "layer": [
     {"transform": [{"filter": "datum.e > 0"}], "mark": {"type": "errorbar", "ticks": {"size": 7}, "thickness": 1},
      "encoding": {"x": {"field": "r", "type": "quantitative", "scale": {"domain": [1, 12], "nice": false}, "axis": null},
       "y": {"field": "v", "type": "quantitative", "scale": {"domain": [0, 100], "nice": false}, "axis": null},
       "yError": {"field": "e"},
       "color": {"field": "m", "type": "nominal", "scale": {"domain": ["TIP3P", "GBOBC", "GBNeck", "GBNeck2"], "range": ["#000000", "#ff0000", "#0000ff", "#ff00ff"]}, "legend": null}}},
     {"mark": {"type": "line", "strokeWidth": 2.5},
      "encoding": {"x": {"field": "r", "type": "quantitative", "scale": {"domain": [1, 12], "nice": false}, "axis": {"orient": "bottom", "values": [1,2,3,4,5,6,7,8,9,10,11,12], "tickSize": -7, "title": "Residue", "titleX": 247, "titleY": 33, "titleAlign": "center", "titleBaseline": "alphabetic", "titleFont": "DejaVu Serif", "titleFontSize": 16}},
       "y": {"field": "v", "type": "quantitative", "scale": {"domain": [0, 100], "nice": false}, "axis": {"orient": "left", "values": [0,10,20,30,40,50,60,70,80,90,100], "labelExpr": "datum.value % 20 === 0 ? datum.label : ''", "tickSize": {"condition": {"test": "datum.value % 20 === 0", "value": -7}, "value": -4}, "title": "PP2"}},
       "color": {"field": "m", "type": "nominal", "scale": {"domain": ["TIP3P", "GBOBC", "GBNeck", "GBNeck2"], "range": ["#000000", "#ff0000", "#0000ff", "#ff00ff"]}, "legend": null}}},
     {"mark": {"type": "line", "opacity": 0},
      "encoding": {"x": {"field": "r", "type": "quantitative", "scale": {"domain": [1, 12], "nice": false}, "axis": {"orient": "top", "values": [1,2,3,4,5,6,7,8,9,10,11,12], "labels": false, "title": null, "tickSize": -7}},
       "y": {"field": "v", "type": "quantitative", "scale": {"domain": [0, 100], "nice": false}, "axis": {"orient": "right", "values": [0,10,20,30,40,50,60,70,80,90,100], "labels": false, "title": null, "tickSize": {"condition": {"test": "datum.value % 20 === 0", "value": -7}, "value": -4}}}}}
    ],
    "resolve": {"axis": {"x": "independent", "y": "independent"}}},
   {"width": 231, "height": 175,
    "transform": [{"filter": "datum.p === 'ext'"}],
    "layer": [
     {"transform": [{"filter": "datum.e > 0"}], "mark": {"type": "errorbar", "ticks": {"size": 7}, "thickness": 1},
      "encoding": {"x": {"field": "r", "type": "quantitative", "scale": {"domain": [1, 12], "nice": false}, "axis": null},
       "y": {"field": "v", "type": "quantitative", "scale": {"domain": [0, 100], "nice": false}, "axis": null},
       "yError": {"field": "e"},
       "color": {"field": "m", "type": "nominal", "scale": {"domain": ["TIP3P", "GBOBC", "GBNeck", "GBNeck2"], "range": ["#000000", "#ff0000", "#0000ff", "#ff00ff"]}, "legend": null}}},
     {"mark": {"type": "line", "strokeWidth": 2.5},
      "encoding": {"x": {"field": "r", "type": "quantitative", "scale": {"domain": [1, 12], "nice": false}, "axis": {"orient": "bottom", "values": [1,2,3,4,5,6,7,8,9,10,11,12], "tickSize": -7, "title": null}},
       "y": {"field": "v", "type": "quantitative", "scale": {"domain": [0, 100], "nice": false}, "axis": {"orient": "left", "values": [0,10,20,30,40,50,60,70,80,90,100], "labelExpr": "datum.value % 20 === 0 ? datum.label : ''", "tickSize": {"condition": {"test": "datum.value % 20 === 0", "value": -7}, "value": -4}, "title": "Extended"}},
       "color": {"field": "m", "type": "nominal", "scale": {"domain": ["TIP3P", "GBOBC", "GBNeck", "GBNeck2"], "range": ["#000000", "#ff0000", "#0000ff", "#ff00ff"]}, "legend": null}}},
     {"mark": {"type": "line", "opacity": 0},
      "encoding": {"x": {"field": "r", "type": "quantitative", "scale": {"domain": [1, 12], "nice": false}, "axis": {"orient": "top", "values": [1,2,3,4,5,6,7,8,9,10,11,12], "labels": false, "title": null, "tickSize": -7}},
       "y": {"field": "v", "type": "quantitative", "scale": {"domain": [0, 100], "nice": false}, "axis": {"orient": "right", "values": [0,10,20,30,40,50,60,70,80,90,100], "labels": false, "title": null, "tickSize": {"condition": {"test": "datum.value % 20 === 0", "value": -7}, "value": -4}}}}}
    ],
    "resolve": {"axis": {"x": "independent", "y": "independent"}}}
]
}
